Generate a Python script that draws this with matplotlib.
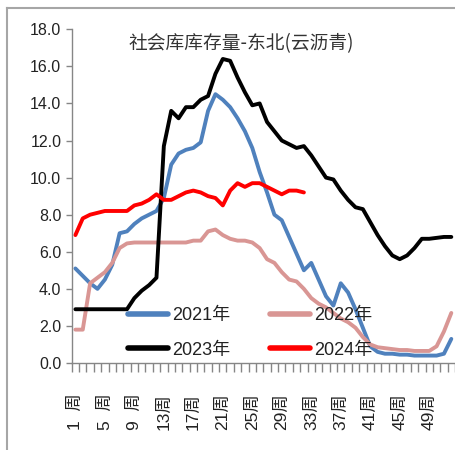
import matplotlib
matplotlib.use('Agg')
import matplotlib.pyplot as plt
from matplotlib.lines import Line2D
from matplotlib.font_manager import FontProperties
import numpy as np

# ---------------- data ----------------
weeks = list(range(1, 53))
tick_weeks = list(range(1, 53, 4))
tick_labels = [f"{w}周" if w >= 10 else f"{w}\u2007周" for w in tick_weeks]
y_ticks = [0, 2, 4, 6, 8, 10, 12, 14, 16, 18]
title = "社会库库存量-东北(云沥青)"

s2021 = [5.1, 4.7, 4.3, 4.0, 4.5, 5.3, 7.0, 7.1, 7.5, 7.8,
         8.0, 8.2, 8.9, 10.7, 11.3, 11.5, 11.6, 11.9, 13.6, 14.5,
         14.2, 13.8, 13.2, 12.5, 11.6, 10.3, 9.2, 8.0, 7.7, 6.8,
         5.9, 5.0, 5.4, 4.5, 3.6, 3.1, 4.3, 3.8, 2.9, 1.9,
         0.9, 0.6, 0.5, 0.5, 0.45, 0.45, 0.4, 0.4, 0.4, 0.4,
         0.5, 1.3]
s2022 = [1.8, 1.8, 4.3, 4.6, 4.9, 5.4, 6.2, 6.45, 6.5, 6.5,
         6.5, 6.5, 6.5, 6.5, 6.5, 6.5, 6.6, 6.6, 7.1, 7.2,
         6.9, 6.7, 6.6, 6.6, 6.5, 6.2, 5.6, 5.4, 4.9, 4.5,
         4.4, 4.0, 3.5, 3.2, 3.0, 2.7, 2.4, 2.2, 1.9, 1.4,
         1.0, 0.85, 0.8, 0.75, 0.7, 0.7, 0.65, 0.65, 0.65, 0.9,
         1.7, 2.7]
s2023 = [2.9, 2.9, 2.9, 2.9, 2.9, 2.9, 2.9, 2.9, 3.5, 3.9,
         4.2, 4.6, 11.7, 13.6, 13.2, 13.8, 13.8, 14.2, 14.4, 15.6,
         16.4, 16.3, 15.4, 14.6, 13.9, 14.0, 13.0, 12.5, 12.0, 11.8,
         11.6, 11.7, 11.2, 10.6, 10.0, 9.9, 9.3, 8.8, 8.4, 8.3,
         7.6, 6.9, 6.3, 5.8, 5.6, 5.8, 6.2, 6.7, 6.7, 6.75,
         6.8, 6.8]
s2024 = [6.9, 7.8, 8.0, 8.1, 8.2, 8.2, 8.2, 8.2, 8.5, 8.6,
         8.8, 9.1, 8.8, 8.8, 9.0, 9.2, 9.3, 9.2, 9.0, 8.9,
         8.5, 9.3, 9.7, 9.5, 9.7, 9.7, 9.5, 9.3, 9.1, 9.3,
         9.3, 9.2]

series = [("2021年", s2021, "#4F81BD"),
          ("2022年", s2022, "#D99694"),
          ("2023年", s2023, "#000000"),
          ("2024年", s2024, "#FF0000")]

# ---------------- figure ----------------
W, H = 456, 450
fig = plt.figure(figsize=(W / 100, H / 100), dpi=100)
fig.patch.set_facecolor('white')

x0, x1 = 71.7, 455.0
ytop, ybot = 29.3, 363.0
ax = fig.add_axes([x0 / W, (H - ybot) / H, (x1 - x0) / W, (ybot - ytop) / H])

lines = {}
for name, vals, col in series:
    ln, = ax.plot(weeks[:len(vals)], vals, color=col, lw=2.8, label=name,
                  solid_joinstyle='round', solid_capstyle='round')
    lines[name] = ln

ax.set_xlim(0.5, 52.5)
ax.set_ylim(0, 18)

spine_col = '#868686'
for s in ['top', 'right']:
    ax.spines[s].set_visible(False)
for s in ['left', 'bottom']:
    ax.spines[s].set_color(spine_col)
    ax.spines[s].set_linewidth(1.0)

tickfont = ['Liberation Sans', 'Noto Sans CJK SC']
ax.set_yticks(y_ticks)
ax.set_yticklabels([f"{v:.1f}" for v in y_ticks], family=tickfont, fontsize=11.5)
ax.tick_params(axis='y', direction='out', length=4.5, width=1.0, color=spine_col,
               pad=3, labelcolor='#222222')

ax.set_xticks(tick_weeks)
ax.set_xticklabels(tick_labels, rotation=90, family=tickfont, fontsize=12.5,
                   va='top', ha='center')
ax.set_xticks(np.arange(0.5, 53, 1), minor=True)
ax.tick_params(axis='x', which='major', length=0, pad=22, labelcolor='#222222')
ax.tick_params(axis='x', which='minor', direction='out', length=6.5, width=1.0,
               color=spine_col)

# legend
leg_prop = FontProperties(family=['Liberation Sans', 'Noto Sans CJK SC'], size=13)
handles = [lines["2021年"], lines["2023年"], lines["2022年"], lines["2024年"]]
labels = ["2021年", "2023年", "2022年", "2024年"]
leg = fig.legend(handles, labels, ncol=2, frameon=False, prop=leg_prop,
                 loc='upper left', bbox_to_anchor=(128 / W, 1 - 307 / H),
                 borderpad=0, borderaxespad=0, handlelength=2.2,
                 handletextpad=0.25, columnspacing=2.2, labelspacing=0.98)
for t in leg.get_texts():
    t.set_color('#222222')
for lh in leg.get_lines():
    lh.set_linewidth(4.0)

# title
fig.text(241 / W, 1 - 44 / H, title, ha='center', va='center', fontsize=13.5,
         family=['Noto Sans CJK SC', 'DejaVu Sans'], color='#333333')

# outer frame (left and top edges)
fig.add_artist(Line2D([7 / W, 7 / W], [0, 1 - 8 / H], transform=fig.transFigure,
                      color='#A6A6A6', lw=1.5))
fig.add_artist(Line2D([7 / W, 1], [1 - 8 / H, 1 - 8 / H], transform=fig.transFigure,
                      color='#A6A6A6', lw=1.5))

fig.savefig('out.png', dpi=100, facecolor='white')
